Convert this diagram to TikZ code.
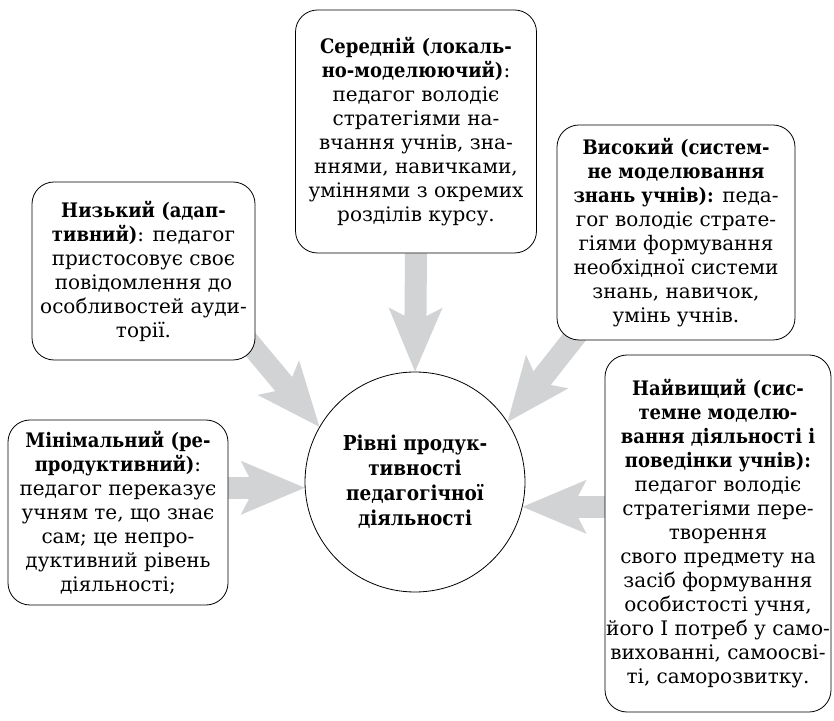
\documentclass[tikz,border=0pt]{standalone}
\usepackage{fontspec}
\setmainfont{DejaVu Serif}[BoldFeatures={FakeStretch=0.9}]
\usetikzlibrary{positioning}
\usetikzlibrary{calc}
\usetikzlibrary{arrows.meta}
\usetikzlibrary{backgrounds}
\definecolor{arrowgray}{RGB}{209,211,212}

\begin{document}
\begin{tikzpicture}[x=1pt,y=1pt,
  box/.style={draw, rounded corners=22pt, fill=white, align=center, inner sep=0pt, line width=0.8pt, font=\fontsize{20}{24}\selectfont},
  hub/.style={draw, circle, fill=white, minimum size=220pt, align=center, inner sep=0pt, line width=0.8pt, font=\fontsize{20.5}{25}\selectfont\bfseries},
  flow/.style={arrowgray, line width=22pt, -{Stealth[length=64pt,width=54pt,inset=14pt,line width=0pt]}}]

\useasboundingbox (0,0) rectangle (834,720);

\node[hub] (levels) at (415,238)
{Рівні продук-\\тивності\\педагогічної\\діяльності};

\node[box, minimum width=241pt, minimum height=243pt] (middle) at (416,588.5)
{\textbf{Середній (локаль-}\\\textbf{но-моделюючий)}:\\педагог володіє\\стратегіями на-\\вчання учнів, зна-\\ннями, навичками,\\уміннями з окремих\\розділів курсу.};

\node[box, minimum width=223pt, minimum height=178pt] (low) at (143.5,449)
{\textbf{Низький (адап-}\\\textbf{тивний)}: педагог\\пристосовує своє\\повідомлення до\\особливостей ауди-\\торії.};

\node[box, minimum width=238pt, minimum height=215pt] (high) at (676,487.5)
{\textbf{Високий (систем-}\\\textbf{не моделювання}\\\textbf{знань учнів):} педа-\\гог володіє страте-\\гіями формування\\необхідної системи\\знань, навичок,\\умінь учнів.};

\node[box, minimum width=220pt, minimum height=185pt] (minimal) at (118,207.5)
{\textbf{Мінімальний (ре-}\\\textbf{продуктивний)}:\\педагог переказує\\учням те, що знає\\сам; це непро-\\дуктивний рівень\\діяльності;};

\node[box, minimum width=226pt, minimum height=357pt] (highest) at (718,186.5)
{\textbf{Найвищий (сис-}\\\textbf{темне моделю-}\\\textbf{вання діяльності і}\\\textbf{поведінки учнів):}\\педагог володіє\\стратегіями пере-\\творення\\свого предмету на\\засіб формування\\особистості учня,\\його І потреб у само-\\вихованні, самоосві-\\ті, саморозвитку.};

% tails of the slanted arrows sit inside the boxes
\coordinate (lowtail) at ($(low.south east)+(-19,33)$);
\coordinate (hightail) at ($(high.south west)+(31,20)$);

\begin{pgfonlayer}{background}
\draw[flow] (middle.south) -- (levels.north);
\draw[flow] (lowtail) -- (levels.150);
\draw[flow] (hightail) -- (levels.33);
\draw[flow] (minimal.east |- levels.183) -- (levels.183);
\draw[flow] (highest.west |- levels.347) -- (levels.347);
\end{pgfonlayer}

\end{tikzpicture}
\end{document}
